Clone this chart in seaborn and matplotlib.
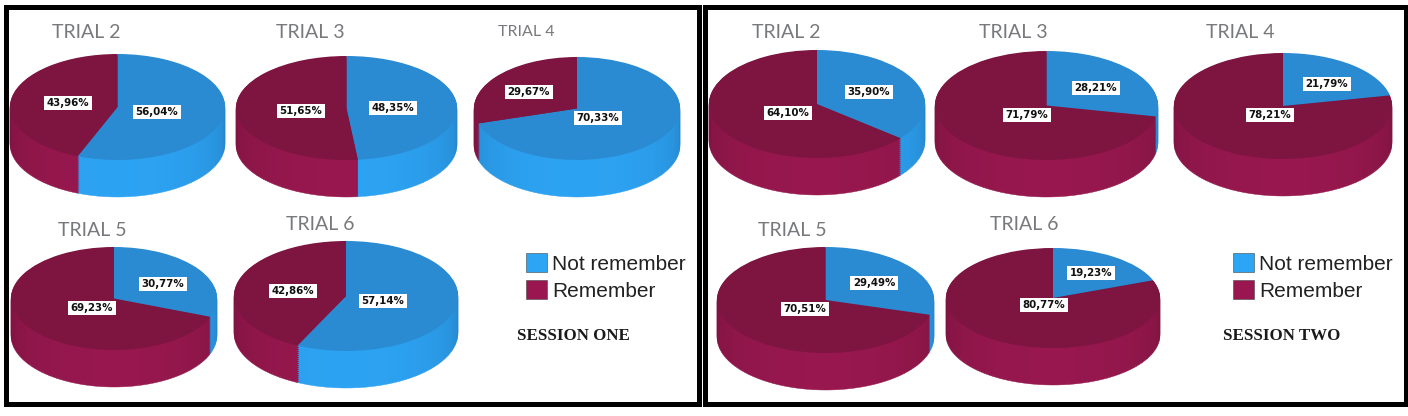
import math
import matplotlib
matplotlib.use("Agg")
import matplotlib.pyplot as plt
from matplotlib.patches import Patch, Rectangle
import seaborn as sns

W, H = 1408, 416

trials = ["TRIAL 2", "TRIAL 3", "TRIAL 4", "TRIAL 5", "TRIAL 6"]
categories = ["Not remember", "Remember"]
session_names = ["SESSION ONE", "SESSION TWO"]

# percent of "Not remember" / "Remember" per trial
s1_not = [56.04, 48.35, 70.33, 30.77, 57.14]
s1_rem = [43.96, 51.65, 29.67, 69.23, 42.86]
s2_not = [35.90, 28.21, 21.79, 29.49, 19.23]
s2_rem = [64.10, 71.79, 78.21, 70.51, 80.77]

sns.set_theme(style="white")
top_cols = sns.color_palette(["#2A8BD2", "#7E1440"])
side_edge = sns.color_palette(["#2581C6", "#7A133E"])
side_mid = sns.color_palette(["#2CA3F2", "#97174E"])
legend_cols = sns.color_palette(["#2CA6F4", "#9A1650"])

# layout, in pixels: left, right, top, bottom of each pie
boxes = [
    [(10, 225, 54, 197), (236, 457, 56, 197), (474, 680, 57, 197), (11, 217, 247, 387), (234, 458, 241, 388)],
    [(709, 925, 50, 195), (935, 1158, 51, 197), (1174, 1392, 53, 196), (717, 934, 247, 390), (946, 1160, 248, 385)],
]
depth = 37
title_xy = [
    [(86, 32), (310, 32), (526, 32), (92, 230), (320, 224)],
    [(786, 32), (1013, 32), (1240, 32), (792, 230), (1024, 224)],
]
title_size = [
    [14, 14, 11.5, 14, 14],
    [14, 14, 14, 14, 14],
]
not_xy = [
    [(157, 112), (393, 108), (598, 118), (163, 284), (383, 301)],
    [(869, 92), (1096, 88), (1327, 84), (874, 283), (1091, 273)],
]
rem_xy = [
    [(68, 103), (301, 111), (529, 92), (92, 308), (293, 291)],
    [(788, 113), (1027, 115), (1270, 115), (805, 309), (1044, 305)],
]
session_xy = [(573, 336), (1282, 336)]
legend_x = [526, 1233]

fig = plt.figure(figsize=(W / 100, H / 100), dpi=100, facecolor="white")

# overlay axes in pixel coordinates for frames and text
over = fig.add_axes([0, 0, 1, 1], zorder=5)
over.set_xlim(0, W)
over.set_ylim(H, 0)
over.axis("off")
over.patch.set_alpha(0)

for x0, x1 in [(6, 699), (705, 1406)]:
    over.add_patch(Rectangle((x0, 7), x1 - x0, 397, fill=False, ec="black", lw=3.6))


def pct(v):
    return f"{v:.2f}%".replace(".", ",")


def side_slices(values):
    # cut each share in thin slices so the wall can be shaded round the pie
    sizes, cols = [], []
    done = 0
    for k, v in enumerate(values):
        n = max(1, round(v / 1.5))
        for j in range(n):
            mid = (done + v * (j + 0.5) / n) / sum(values) * 2 * math.pi
            t = max(0.0, -math.cos(mid)) ** 0.6
            cols.append(tuple(a + (b - a) * t for a, b in zip(side_edge[k], side_mid[k])))
            sizes.append(v / n)
        done += v
    return sizes, cols


def draw_pie(box, values):
    left, right, top, bottom = box
    ax = fig.add_axes([left / W, 1 - bottom / H, (right - left) / W, (bottom - top) / H])
    ry = (bottom - top - depth) / 2
    d = depth / ry
    sizes, cols = side_slices(values)
    # stacked layers make the side wall, top face goes last
    for i in range(0, depth, 2):
        wedges, _ = ax.pie(sizes, colors=cols, startangle=90, counterclock=False, radius=1,
                           center=(0, -d * (depth - i) / depth))
        for w, c in zip(wedges, cols):
            w.set_edgecolor(c)
            w.set_linewidth(0.3)
    ax.pie(values, colors=top_cols, startangle=90, counterclock=False, radius=1,
           center=(0, 0), wedgeprops={"linewidth": 0})
    ax.set_aspect("auto")
    ax.set_xlim(-1, 1)
    ax.set_ylim(-1 - d, 1)
    ax.axis("off")


for s, (nots, rems) in enumerate([(s1_not, s1_rem), (s2_not, s2_rem)]):
    for t, name in enumerate(trials):
        draw_pie(boxes[s][t], [nots[t], rems[t]])
        over.text(*title_xy[s][t], name, family="Lato", fontsize=title_size[s][t], color="#77797C",
                  ha="center", va="center")
        for xy, v in [(not_xy[s][t], nots[t]), (rem_xy[s][t], rems[t])]:
            over.text(*xy, pct(v), fontsize=7.4, fontweight="bold", color="#111111",
                      ha="center", va="center",
                      bbox=dict(fc="white", ec="none", pad=1.8))
    over.text(*session_xy[s], session_names[s], family="Liberation Serif", fontweight="bold",
              fontsize=12.2, color="#1A1A1A", ha="center", va="center")
    handles = [Patch(fc=c, ec="#444444", lw=0.4) for c in legend_cols]
    fig.legend(handles, categories, loc="center left",
               bbox_to_anchor=(legend_x[s] / W, 1 - 277 / H), frameon=False,
               prop={"family": "Liberation Sans", "size": 15},
               labelcolor="#222222", handlelength=1.0, handleheight=1.0,
               handletextpad=0.25, labelspacing=0.3, borderpad=0, borderaxespad=0)

fig.savefig("out.png", dpi=100, facecolor="white")
